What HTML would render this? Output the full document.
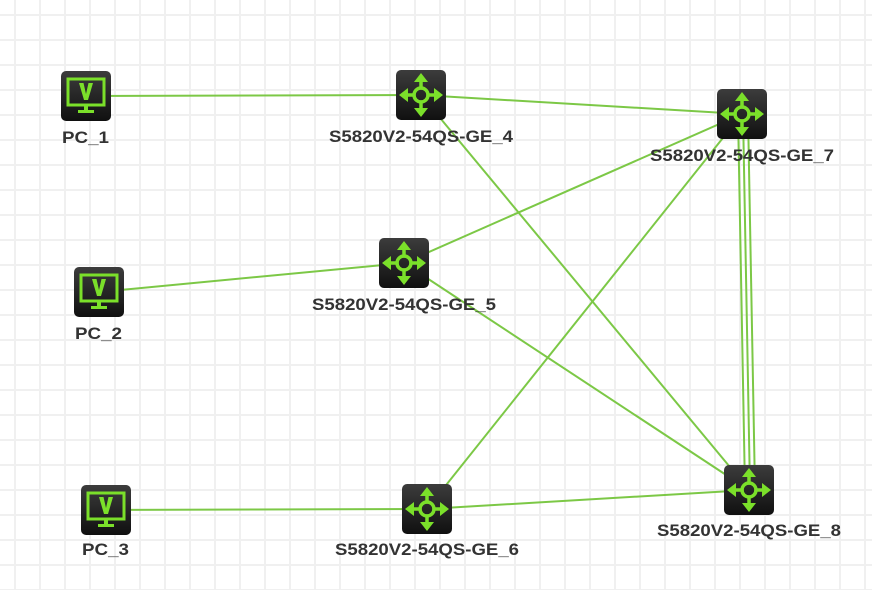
<!DOCTYPE html>
<html><head><meta charset="utf-8"><style>
html,body{margin:0;padding:0;background:#fff;}
svg{display:block;}
text{font-family:"Liberation Sans",Arial,sans-serif;font-weight:bold;font-size:17px;fill:#333;}
</style></head><body>
<svg width="872" height="590" viewBox="0 0 872 590" xmlns="http://www.w3.org/2000/svg">
<defs>
<pattern id="g" x="14" y="14" width="25" height="25" patternUnits="userSpaceOnUse">
<path d="M0 1H25M1 0V25" stroke="#f0f0f0" stroke-width="2" fill="none"/>
</pattern>
<linearGradient id="bg" x1="0" y1="0" x2="0" y2="1">
<stop offset="0" stop-color="#3c3c3c"/><stop offset="1" stop-color="#101010"/>
</linearGradient>
<g id="sw">
<rect x="-25" y="-25" width="50" height="50" rx="5" fill="url(#bg)"/>
<g stroke="#7be02a" stroke-width="3.5" fill="none" stroke-linecap="round">
<circle r="7"/>
<path d="M0 -7V-16M0 7V16M-7 0H-16M7 0H16"/>
</g>
<g fill="#7be02a">
<path d="M0 -22L-7 -13H7Z"/><path d="M0 22L-7 13H7Z"/><path d="M-22 0L-13 -7V7Z"/><path d="M22 0L13 -7V7Z"/>
</g>
</g>
<g id="pc">
<rect x="-25" y="-25" width="50" height="50" rx="5" fill="url(#bg)"/>
<rect x="-18" y="-17" width="36" height="26" fill="none" stroke="#7be02a" stroke-width="3"/>
<path d="M-7 -13H-2.5L0 -2L2.5 -13H7L2 4H-2Z" fill="#7be02a"/>
<path d="M-2 10V14H-8V17H8V14H2V10Z" fill="#7be02a"/>
</g>
</defs>
<rect width="872" height="590" fill="url(#g)"/>
<g stroke="#7cc846" stroke-width="2" fill="none">
<line x1="86" y1="96" x2="421" y2="95"/>
<line x1="421" y1="95" x2="742" y2="114"/>
<line x1="421" y1="95" x2="749" y2="490"/>
<line x1="404" y1="263" x2="742" y2="114"/>
<line x1="99" y1="292" x2="404" y2="263"/>
<line x1="404" y1="263" x2="749" y2="490"/>
<line x1="427" y1="509" x2="742" y2="114"/>
<line x1="106" y1="510" x2="427" y2="509"/>
<line x1="427" y1="509" x2="749" y2="490"/>
<line x1="738" y1="114" x2="745" y2="490"/>
<line x1="743" y1="114" x2="750" y2="490"/>
<line x1="748" y1="114" x2="755" y2="490"/>
</g>
<use href="#pc" x="86" y="96"/>
<use href="#pc" x="99" y="292"/>
<use href="#pc" x="106" y="510"/>
<use href="#sw" x="421" y="95"/>
<use href="#sw" x="742" y="114"/>
<use href="#sw" x="404" y="263"/>
<use href="#sw" x="427" y="509"/>
<use href="#sw" x="749" y="490"/>
<text x="62" y="143" textLength="47" lengthAdjust="spacingAndGlyphs">PC_1</text>
<text x="75" y="339" textLength="47" lengthAdjust="spacingAndGlyphs">PC_2</text>
<text x="82" y="555" textLength="47" lengthAdjust="spacingAndGlyphs">PC_3</text>
<text x="329" y="142" textLength="184" lengthAdjust="spacingAndGlyphs">S5820V2-54QS-GE_4</text>
<text x="650" y="161" textLength="184" lengthAdjust="spacingAndGlyphs">S5820V2-54QS-GE_7</text>
<text x="312" y="310" textLength="184" lengthAdjust="spacingAndGlyphs">S5820V2-54QS-GE_5</text>
<text x="335" y="555" textLength="184" lengthAdjust="spacingAndGlyphs">S5820V2-54QS-GE_6</text>
<text x="657" y="536" textLength="184" lengthAdjust="spacingAndGlyphs">S5820V2-54QS-GE_8</text>
</svg>
</body></html>
